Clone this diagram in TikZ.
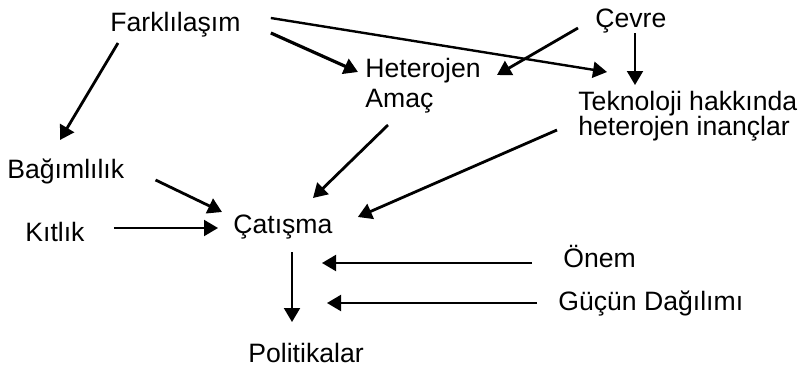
\documentclass[tikz,border=0pt]{standalone}
\usepackage{fontspec}
\setmainfont{Liberation Sans}
\usetikzlibrary{arrows.meta,calc}

\begin{document}
\begin{tikzpicture}[x=0.5pt,y=-0.5pt,
  lbl/.style={inner sep=0pt,anchor=base west,font=\fontsize{13.3}{12.5}\selectfont},
  arr/.style={line width=1.4pt,-{Triangle[length=7pt,width=8pt]}},
  thinarr/.style={arr,line width=1pt}]
  \useasboundingbox (0,0) rectangle (803,370);
  % factors
  \node[lbl] (farkl) at (110,31) {Farklılaşım};
  \node[lbl] (cevre) at (595,27) {Çevre};
  \node[lbl,align=left] (het) at (365,107) {Heterojen\\[2.5pt]Amaç};
  \node[lbl,align=left] (tekn) at (578,135) {Teknoloji hakkında\\heterojen inançlar};
  \node[lbl] (bagim) at (7,178) {Bağımlılık};
  \node[lbl] (kitlik) at (25,241) {Kıtlık};
  \node[lbl] (catis) at (233,233) {Çatışma};
  \node[lbl] (onem) at (563,267) {Önem};
  \node[lbl] (gucun) at (558,310) {Güçün Dağılımı};
  \node[lbl] (polit) at (248,362) {Politikalar};
  % upper arrows
  \draw[arr] ($(farkl.base west)+(8,12)$) -- ($(bagim.base west)+(53,-38)$);
  \draw[arr,line width=1.6pt] ($(farkl.base east)+(30,2)$) -- ($(het.base west)+(-7,-35)$);
  \draw[arr,line width=1.2pt] ($(farkl.base east)+(30,-13)$) -- ($(tekn.base west)+(29,-63)$);
  \draw[arr] ($(cevre.base west)+(-17,1)$) -- ($(het.base west)+(132,-32)$);
  \draw[thinarr] ($(cevre.base west)+(40,6)$) -- ($(tekn.base west)+(57,-50)$);
  % into conflict
  \draw[arr] ($(het.base west)+(23,18)$) -- ($(catis.base west)+(80,-35)$);
  \draw[arr] ($(tekn.base west)+(-21,-5)$) -- ($(catis.base east)+(25,-16)$);
  \draw[arr] ($(bagim.base east)+(31,2)$) -- ($(catis.base west)+(-11,-21)$);
  \draw[thinarr] ($(kitlik.base east)+(29,-13)$) -- ($(catis.base west)+(-15,-5)$);
  \draw[thinarr] ($(onem.base west)+(-31,-4)$) -- ($(catis.base west)+(89,30)$);
  \draw[thinarr] ($(gucun.base west)+(-21,-7)$) -- ($(catis.base west)+(94,70)$);
  \draw[thinarr] ($(catis.base west)+(59,19)$) -- ($(polit.base west)+(44,-40)$);
\end{tikzpicture}
\end{document}
